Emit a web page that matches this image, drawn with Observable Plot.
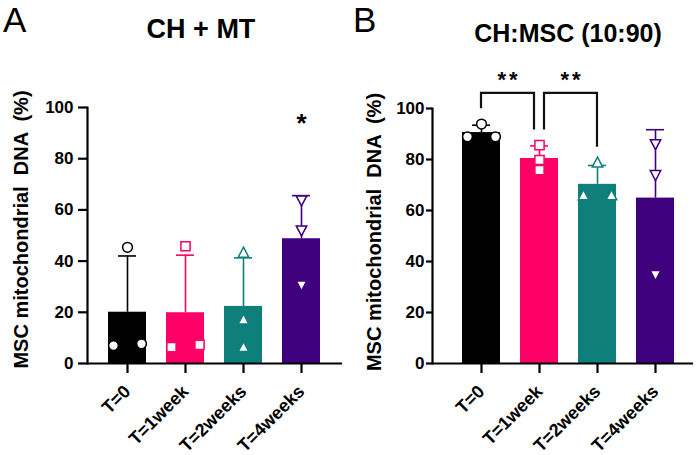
<!DOCTYPE html>
<html><head><meta charset="utf-8">
<script src="https://cdn.jsdelivr.net/npm/d3@7"></script>
<script src="https://cdn.jsdelivr.net/npm/@observablehq/plot@0.6"></script>
<style>
body{margin:0;background:#fff}
#wrap{position:relative;width:700px;height:455px;overflow:hidden;font-family:"Liberation Sans",Arial,sans-serif}
#wrap > svg{position:absolute;top:0}
</style></head><body><div id="wrap"></div>
<script>
// ---- data ----
const groups = ["T=0", "T=1week", "T=2weeks", "T=4weeks"];
const colors = ["#000000", "#ff0066", "#0f7f7b", "#3f007d"];
const yTicks = [0, 20, 40, 60, 80, 100];
const yLabel = "MSC mitochondrial  DNA  (%)";
const panelLetters = ["A", "B"];
const titles = ["CH + MT", "CH:MSC (10:90)"];
// replicate values (n = 3 per group)
const valuesA = [[45.4, 7.0, 7.7], [45.8, 6.4, 7.3], [43.3, 17.2, 6.4], [63.7, 52.0, 30.5]];
const valuesB = [[93.9, 88.9, 88.9], [85.6, 79.8, 75.8], [78.8, 66.0, 66.0], [86.0, 73.9, 34.7]];
const starsA = [{group: "T=4weeks", label: "*"}];
const bracketsB = [{from: "T=0", to: "T=1week", label: "**"}, {from: "T=1week", to: "T=2weeks", label: "**"}];

// ---- layout / style ----
const jitterA = [[0, -1, 1], [0, -1, 1], [0, 0, 0], [0, 0, 0]];
const jitterB = [[0, -1, 1], [0, 0, 0], [0, -1, 1], [0, 0, 0]];
const starYA = 96;
const font = "Liberation Sans, Arial, sans-serif";

function sym(draw) { return {draw(ctx, size) { draw(ctx, Math.sqrt(size / Math.PI)); }}; }
const symbols = [
  sym((c, r) => { c.moveTo(r * 0.98, 0); c.arc(0, 0, r * 0.98, 0, 2 * Math.PI); }),
  sym((c, r) => { const s = r * 0.92; c.moveTo(-s, -s); c.lineTo(s, -s); c.lineTo(s, s); c.lineTo(-s, s); c.closePath(); }),
  sym((c, r) => { c.moveTo(0, -1.1 * r); c.lineTo(1.05 * r, 0.9 * r); c.lineTo(-1.05 * r, 0.9 * r); c.closePath(); }),
  sym((c, r) => { c.moveTo(0, 1.1 * r); c.lineTo(1.05 * r, -0.9 * r); c.lineTo(-1.05 * r, -0.9 * r); c.closePath(); })
];

function stats(values) {
  return groups.map((g, i) => ({group: g, mean: d3.mean(values[i]), sd: d3.deviation(values[i]), max: d3.max(values[i])}));
}

function panel({values, jitter, marginLeft, marginRight, marginTop, marginBottom, xRange, yTickSize, yTickPadding, labelDx, labelDy, extra}) {
  const rows = stats(values);
  const pts = groups.flatMap((g, i) => values[i].map((v, j) => ({group: g, value: v, jit: jitter[i][j]})));
  return Plot.plot({
    width: 350, height: 455, marginLeft, marginRight, marginTop, marginBottom,
    style: {fontFamily: font, fontSize: "17px", fontWeight: "bold", background: "transparent", overflow: "visible"},
    x: {domain: groups, range: xRange, paddingInner: 0.34, paddingOuter: 0},
    y: {domain: [0, 100]},
    color: {domain: groups, range: colors},
    symbol: {domain: groups, range: symbols},
    marks: [
      Plot.barY(rows, {x: "group", y: "mean", fill: "group"}),
      Plot.ruleX(rows, {x: "group", y1: "mean", y2: d => d.mean + d.sd, stroke: "group", strokeWidth: 1.6}),
      Plot.tickY(rows, {x: "group", y: d => d.mean + d.sd, stroke: "group", strokeWidth: 1.6, insetLeft: 10, insetRight: 10}),
      ...[-1, 0, 1].map(k => Plot.dot(pts.filter(d => d.jit === k), {
        x: "group", y: "value", symbol: "group", stroke: "group", fill: "white", r: 5, strokeWidth: 1.5, dx: k * 14
      })),
      Plot.ruleY([0], {strokeWidth: 2.2}),
      Plot.frame({anchor: "left", strokeWidth: 2.2}),
      Plot.axisY({ticks: yTicks, tickSize: yTickSize, tickPadding: yTickPadding, fontSize: 17, fontWeight: "bold", strokeWidth: 2.2, label: null}),
      Plot.axisX({tickSize: 10, tickPadding: 15, tickRotate: -45, fontSize: 18, fontWeight: "bold", strokeWidth: 2.2, label: null}),
      Plot.text([yLabel], {frameAnchor: "left", textAnchor: "middle", rotate: -90, dx: labelDx, dy: labelDy, fontSize: 20, fontWeight: "bold"}),
      ...extra(rows)
    ]
  });
}

const plotA = panel({
  values: valuesA, jitter: jitterA, marginLeft: 87, marginRight: 8, marginTop: 107, marginBottom: 92,
  xRange: [107, 322], yTickSize: 9, yTickPadding: 5, labelDx: -66, labelDy: -6,
  extra: () => [Plot.text(starsA, {x: "group", y: () => starYA, text: "label", fontSize: 26, fontWeight: "bold", dy: 6})]
});

const plotB = panel({
  values: valuesB, jitter: jitterB, marginLeft: 82, marginRight: 7, marginTop: 108, marginBottom: 92,
  xRange: [111, 326], yTickSize: 6, yTickPadding: 2, labelDx: -58, labelDy: -4,
  extra: (rows) => [(index, scales) => {
    const x = scales.x, y = scales.y;
    const bw = x.bandwidth ? x.bandwidth() : 0;
    const cx = g => x(g) + bw / 2;
    const byGroup = new Map(rows.map(r => [r.group, Math.max(r.max, r.mean + r.sd) + 6]));
    const top = d3.max(bracketsB, b => Math.max(byGroup.get(b.from), byGroup.get(b.to))) + 6;
    const g = d3.create("svg:g");
    bracketsB.forEach((b, i) => {
      const x1 = cx(b.from) + (i > 0 ? 5 : 0), x2 = cx(b.to) - (i < bracketsB.length - 1 ? 5 : 0);
      g.append("path").attr("fill", "none").attr("stroke", "#111").attr("stroke-width", 2.2)
        .attr("d", `M${x1},${y(byGroup.get(b.from))}V${y(top)}H${x2}V${y(byGroup.get(b.to))}`);
      g.append("text").attr("x", (x1 + x2) / 2 + 1.5).attr("y", y(top) - 6).attr("text-anchor", "middle")
        .attr("font-size", 22).attr("font-weight", "bold").attr("letter-spacing", 3).attr("font-family", font)
        .text(b.label);
    });
    return g.node();
  }]
});

const wrap = document.getElementById("wrap");
plotA.style.left = "0px";
plotB.style.left = "350px";
wrap.append(plotA, plotB);

const overlay = d3.create("svg").attr("width", 700).attr("height", 455).style("left", "0px").style("pointer-events", "none")
  .attr("font-family", font);
overlay.append("text").attr("x", 3).attr("y", 31.5).attr("font-size", 35).text(panelLetters[0]);
overlay.append("text").attr("x", 353).attr("y", 31.5).attr("font-size", 35).text(panelLetters[1]);
overlay.append("text").attr("x", 201).attr("y", 38).attr("font-size", 27).attr("font-weight", "bold").attr("text-anchor", "middle").text(titles[0]);
overlay.append("text").attr("x", 568).attr("y", 42).attr("font-size", 25).attr("font-weight", "bold").attr("text-anchor", "middle").text(titles[1]);
wrap.append(overlay.node());
</script></body></html>
